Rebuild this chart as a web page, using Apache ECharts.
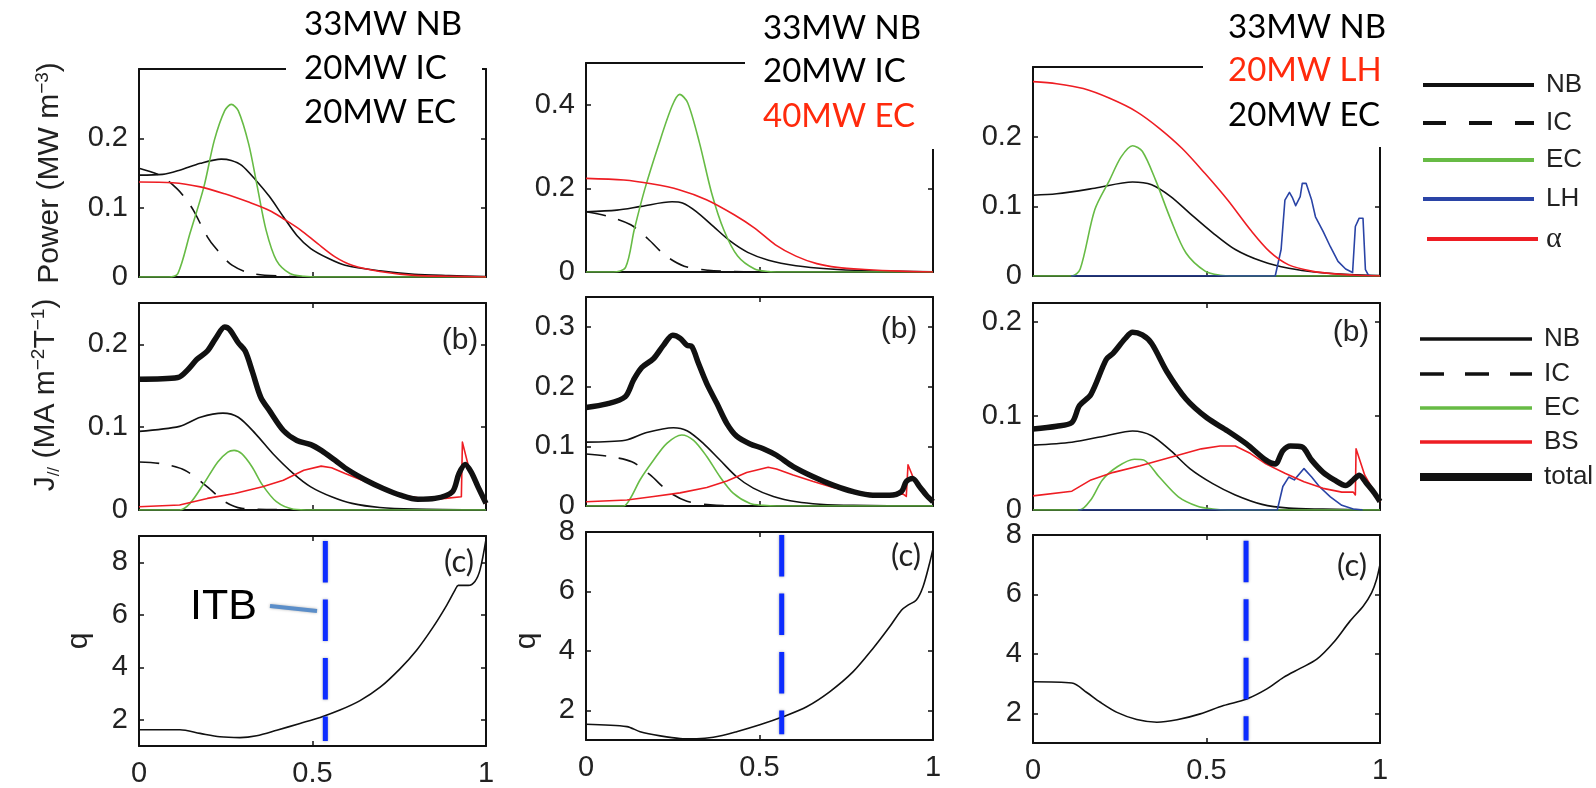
<!DOCTYPE html>
<html><head><meta charset="utf-8">
<script src="https://cdn.jsdelivr.net/npm/echarts@6/dist/echarts.min.js"></script>
<style>html,body{margin:0;padding:0;background:#fff}#c{width:1596px;height:788px}</style>
</head><body><div id="c"></div>
<script>
// ---------- DATA (x = normalised radius, y = value) ----------
// Column 1 : 33MW NB, 20MW IC, 20MW EC
const a1_NB = [[0,0.147],[0.068,0.148],[0.117,0.154],[0.177,0.164],[0.237,0.170],[0.266,0.168],[0.296,0.161],[0.336,0.140],[0.376,0.116],[0.416,0.087],[0.455,0.060],[0.495,0.041],[0.545,0.027],[0.594,0.017],[0.694,0.009],[0.793,0.004],[0.893,0.002],[1,0.0005]];
const a1_IC = [[0,0.157],[0.063,0.146],[0.11,0.127],[0.137,0.111],[0.157,0.096],[0.197,0.058],[0.222,0.041],[0.268,0.017],[0.326,0.005],[0.425,0.001],[0.5,0],[0.85,0]];
const a1_EC = [[0,0],[0.087,0],[0.112,0.005],[0.147,0.063],[0.187,0.130],[0.217,0.197],[0.247,0.240],[0.266,0.249],[0.286,0.240],[0.316,0.192],[0.341,0.130],[0.366,0.068],[0.396,0.024],[0.435,0.005],[0.475,0.001],[0.52,0],[1,0]];
const a1_AL = [[0,0.137],[0.097,0.136],[0.177,0.130],[0.247,0.120],[0.316,0.108],[0.376,0.096],[0.416,0.084],[0.465,0.068],[0.515,0.048],[0.565,0.029],[0.614,0.017],[0.694,0.008],[0.793,0.0024],[0.893,0.001],[1,0]];
const b1_TOT = [[0,0.158],[0.112,0.160],[0.142,0.170],[0.167,0.182],[0.197,0.192],[0.222,0.208],[0.247,0.221],[0.261,0.218],[0.286,0.202],[0.306,0.192],[0.326,0.168],[0.351,0.136],[0.376,0.120],[0.416,0.096],[0.455,0.084],[0.495,0.079],[0.525,0.072],[0.565,0.060],[0.604,0.048],[0.654,0.036],[0.704,0.026],[0.753,0.018],[0.803,0.013],[0.853,0.014],[0.903,0.022],[0.922,0.044],[0.940,0.055],[0.957,0.046],[0.977,0.028],[1,0.008]];
const b1_NB = [[0,0.095],[0.117,0.101],[0.177,0.112],[0.242,0.117],[0.286,0.112],[0.336,0.092],[0.386,0.068],[0.445,0.044],[0.495,0.028],[0.555,0.016],[0.614,0.008],[0.694,0.003],[0.793,0.001],[1,0]];
const b1_IC = [[0,0.058],[0.063,0.056],[0.132,0.048],[0.197,0.028],[0.247,0.010],[0.296,0.002],[0.396,0.0004],[0.6,0],[0.85,0]];
const b1_EC = [[0,0],[0.117,0],[0.147,0.008],[0.187,0.032],[0.227,0.058],[0.256,0.070],[0.274,0.072],[0.296,0.068],[0.326,0.052],[0.356,0.030],[0.396,0.010],[0.445,0.001],[0.5,0],[1,0]];
const b1_BS = [[0,0.004],[0.117,0.006],[0.197,0.014],[0.276,0.020],[0.356,0.028],[0.416,0.036],[0.475,0.048],[0.525,0.053],[0.555,0.051],[0.594,0.044],[0.654,0.034],[0.714,0.024],[0.773,0.017],[0.833,0.013],[0.883,0.014],[0.929,0.016],[0.932,0.082],[0.95,0.052],[0.96,0.045],[0.98,0.027],[1,0.008]];
const c1_q = [[0,1.62],[0.118,1.62],[0.176,1.48],[0.233,1.35],[0.291,1.32],[0.339,1.39],[0.397,1.60],[0.464,1.86],[0.522,2.09],[0.579,2.37],[0.637,2.73],[0.695,3.24],[0.752,3.94],[0.800,4.65],[0.848,5.54],[0.887,6.37],[0.911,6.95],[0.920,7.12],[0.949,7.12],[0.968,7.27],[0.983,7.72],[1,8.87]];
// Column 2 : 33MW NB, 20MW IC, 40MW EC
const a2_NB = [[0,0.144],[0.089,0.148],[0.159,0.157],[0.248,0.168],[0.278,0.165],[0.317,0.145],[0.367,0.109],[0.417,0.073],[0.466,0.047],[0.526,0.028],[0.605,0.015],[0.704,0.007],[0.804,0.003],[0.903,0.0016],[1,0.0005]];
const a2_IC = [[0,0.144],[0.064,0.133],[0.129,0.113],[0.179,0.079],[0.228,0.040],[0.283,0.014],[0.352,0.004],[0.427,0.001],[0.5,0],[0.85,0]];
const a2_EC = [[0,0],[0.079,0],[0.114,0.011],[0.139,0.101],[0.169,0.197],[0.208,0.301],[0.248,0.397],[0.270,0.425],[0.293,0.405],[0.327,0.309],[0.362,0.189],[0.397,0.101],[0.437,0.038],[0.486,0.007],[0.526,0.001],[0.56,0],[1,0]];
const a2_AL = [[0,0.224],[0.109,0.220],[0.188,0.211],[0.268,0.197],[0.347,0.173],[0.427,0.137],[0.486,0.105],[0.546,0.065],[0.605,0.038],[0.665,0.020],[0.724,0.011],[0.804,0.006],[0.903,0.002],[1,0]];
const b2_TOT = [[0,0.165],[0.060,0.171],[0.113,0.183],[0.137,0.211],[0.161,0.232],[0.195,0.247],[0.223,0.269],[0.250,0.286],[0.271,0.281],[0.291,0.269],[0.305,0.267],[0.324,0.239],[0.348,0.205],[0.377,0.172],[0.406,0.138],[0.434,0.117],[0.473,0.104],[0.511,0.096],[0.549,0.085],[0.597,0.066],[0.655,0.049],[0.712,0.035],[0.770,0.024],[0.827,0.018],[0.875,0.018],[0.909,0.024],[0.923,0.041],[0.941,0.046],[0.962,0.032],[0.981,0.018],[1,0.007]];
const b2_NB = [[0,0.107],[0.113,0.110],[0.175,0.123],[0.252,0.131],[0.291,0.126],[0.338,0.105],[0.386,0.077],[0.434,0.049],[0.482,0.030],[0.540,0.016],[0.607,0.007],[0.674,0.003],[0.770,0.001],[1,0]];
const b2_IC = [[0,0.087],[0.065,0.083],[0.132,0.074],[0.185,0.052],[0.238,0.024],[0.291,0.008],[0.358,0.002],[0.444,0],[0.85,0]];
const b2_EC = [[0,0],[0.108,0],[0.128,0.013],[0.156,0.044],[0.195,0.077],[0.233,0.105],[0.276,0.119],[0.310,0.110],[0.348,0.083],[0.386,0.049],[0.425,0.021],[0.473,0.004],[0.511,0.001],[0.55,0],[1,0]];
const b2_BS = [[0,0.007],[0.118,0.010],[0.195,0.016],[0.271,0.022],[0.348,0.031],[0.406,0.042],[0.463,0.056],[0.525,0.065],[0.549,0.062],[0.597,0.052],[0.655,0.041],[0.712,0.031],[0.770,0.024],[0.827,0.020],[0.875,0.018],[0.914,0.020],[0.923,0.016],[0.928,0.069],[0.942,0.049],[0.962,0.032],[1,0.007]];
const c2_q = [[0,1.53],[0.118,1.45],[0.156,1.28],[0.214,1.14],[0.271,1.05],[0.319,1.04],[0.367,1.09],[0.434,1.28],[0.501,1.51],[0.569,1.79],[0.636,2.12],[0.703,2.63],[0.770,3.30],[0.827,4.08],[0.875,4.81],[0.909,5.37],[0.928,5.54],[0.952,5.71],[0.971,6.15],[0.990,6.94],[1,7.44]];
// Column 3 : 33MW NB, 20MW LH, 20MW EC
const a3_NB = [[0,0.116],[0.068,0.118],[0.178,0.126],[0.287,0.135],[0.342,0.131],[0.397,0.114],[0.452,0.090],[0.518,0.062],[0.583,0.038],[0.660,0.021],[0.737,0.011],[0.825,0.005],[0.912,0.002],[1,0.0005]];
const a3_EC = [[0,0],[0.112,0],[0.136,0.010],[0.178,0.095],[0.221,0.138],[0.254,0.171],[0.287,0.187],[0.315,0.179],[0.353,0.138],[0.397,0.081],[0.441,0.033],[0.496,0.007],[0.539,0.001],[0.58,0],[1,0]];
const a3_LH = [[0.11,0],[0.698,0],[0.715,0.038],[0.726,0.109],[0.739,0.120],[0.748,0.112],[0.757,0.101],[0.770,0.114],[0.776,0.133],[0.787,0.133],[0.803,0.109],[0.814,0.085],[0.836,0.064],[0.857,0.042],[0.879,0.021],[0.901,0.010],[0.921,0.005],[0.929,0.071],[0.940,0.083],[0.951,0.083],[0.958,0.009],[0.967,0.001],[0.975,0]];
const a3_AL = [[0,0.279],[0.068,0.276],[0.145,0.269],[0.221,0.255],[0.298,0.236],[0.364,0.212],[0.430,0.183],[0.496,0.147],[0.561,0.109],[0.627,0.066],[0.682,0.035],[0.737,0.016],[0.803,0.007],[0.868,0.003],[0.934,0.001],[1,0]];
const b3_TOT = [[0,0.086],[0.068,0.089],[0.112,0.093],[0.134,0.111],[0.167,0.123],[0.211,0.160],[0.232,0.167],[0.265,0.182],[0.287,0.189],[0.315,0.186],[0.342,0.177],[0.386,0.147],[0.441,0.118],[0.501,0.098],[0.561,0.084],[0.616,0.070],[0.671,0.053],[0.698,0.049],[0.720,0.063],[0.742,0.068],[0.775,0.067],[0.803,0.053],[0.836,0.040],[0.868,0.032],[0.901,0.026],[0.923,0.032],[0.940,0.037],[0.962,0.028],[0.984,0.018],[1,0.009]];
const b3_NB = [[0,0.069],[0.112,0.072],[0.211,0.079],[0.287,0.084],[0.342,0.079],[0.397,0.063],[0.452,0.044],[0.518,0.028],[0.583,0.016],[0.660,0.006],[0.737,0.002],[0.836,0.001],[1,0]];
const b3_EC = [[0,0],[0.134,0],[0.167,0.011],[0.200,0.032],[0.243,0.046],[0.292,0.054],[0.320,0.053],[0.364,0.035],[0.419,0.014],[0.474,0.004],[0.518,0.001],[0.56,0],[1,0]];
const b3_LH = [[0.13,0],[0.704,0],[0.720,0.025],[0.737,0.035],[0.753,0.032],[0.781,0.044],[0.803,0.035],[0.825,0.025],[0.857,0.014],[0.890,0.005],[0.923,0.001],[0.95,0]];
const b3_BS = [[0,0.015],[0.112,0.020],[0.167,0.032],[0.232,0.040],[0.309,0.047],[0.397,0.056],[0.485,0.065],[0.539,0.068],[0.583,0.068],[0.627,0.060],[0.671,0.049],[0.726,0.039],[0.781,0.030],[0.836,0.023],[0.890,0.019],[0.923,0.019],[0.929,0.016],[0.931,0.065],[0.956,0.037],[0.978,0.023],[1,0.009]];
const c3_q = [[0,3.06],[0.112,3.02],[0.155,2.70],[0.194,2.37],[0.242,2.03],[0.299,1.79],[0.357,1.70],[0.415,1.78],[0.482,1.98],[0.549,2.26],[0.616,2.48],[0.674,2.82],[0.722,3.21],[0.770,3.51],[0.818,3.82],[0.866,4.38],[0.914,5.11],[0.952,5.61],[0.976,6.06],[0.990,6.50],[1,7.01]];
// ITB positions (x) and dashed-line extent in q
const itbX = [0.537, 0.564, 0.614];
const itbQ = [[8.81,1.19],[7.9,1.19],[7.81,1.08]];
// axis ranges / tick labels (panel order: col1 a,b,c, col2 a,b,c, col3 a,b,c)
const yMin = [0,0,1, 0,0,1, 0,0,1];
const yMax = [0.3,0.25,9, 0.5,0.35,8, 0.3,0.22,8];
const yTicks = [[0,0.1,0.2],[0,0.1,0.2],[2,4,6,8],[0,0.2,0.4],[0,0.1,0.2,0.3],[2,4,6,8],[0,0.1,0.2],[0,0.1,0.2],[2,4,6,8]];
const xTicks = [0,0.5,1];
const titles = [["33MW NB","20MW IC","20MW EC"],["33MW NB","20MW IC","40MW EC"],["33MW NB","20MW LH","20MW EC"]];
const titleRed = [[false,false,false],[false,false,true],[false,true,false]];
const legend1 = ["NB","IC","EC","LH","α"];
const legend2 = ["NB","IC","EC","BS","total"];

// ---------- LAYOUT ----------
const G = [[139,69,347,208],[139,303,347,207],[139,536,347,210],
           [586,63,347,209],[586,297,347,209],[586,532,347,208],
           [1033,67,347,209],[1033,303,347,207],[1033,535,347,208]];
const BLACK='#111', GREEN='#67bb45', RED='#ee1d23', BLUE='#2a44a6', TRED='#ff2a0c';
const SANS='Liberation Sans, Arial, sans-serif';

const grid=[], xAxis=[], yAxis=[], series=[];
G.forEach((g,i)=>{
  grid.push({left:g[0],top:g[1],width:g[2],height:g[3],containLabel:false});
  const line={show:true,onZero:false,lineStyle:{color:'#111',width:2}};
  const tick={show:true,inside:true,length:5,lineStyle:{color:'#111',width:1.5}};
  const isBottom = (i%3)===2;
  xAxis.push({type:'value',gridIndex:i,min:0,max:1,position:'bottom',axisLine:line,
    axisTick:Object.assign({customValues:xTicks},tick),splitLine:{show:false},
    axisLabel:{show:isBottom,customValues:xTicks,fontSize:29,fontFamily:SANS,color:'#222',margin:13}});
  xAxis.push({type:'value',gridIndex:i,min:0,max:1,position:'top',axisLine:line,
    axisTick:Object.assign({customValues:xTicks},tick),splitLine:{show:false},axisLabel:{show:false}});
  yAxis.push({type:'value',gridIndex:i,min:yMin[i],max:yMax[i],position:'left',axisLine:line,
    axisTick:Object.assign({customValues:yTicks[i]},tick),splitLine:{show:false},
    axisLabel:{customValues:yTicks[i],fontSize:29,fontFamily:SANS,color:'#222',margin:11}});
  yAxis.push({type:'value',gridIndex:i,min:yMin[i],max:yMax[i],position:'right',axisLine:line,
    axisTick:Object.assign({customValues:yTicks[i]},tick),splitLine:{show:false},axisLabel:{show:false}});
});
function L(i,data,color,width,o){
  o=o||{};
  series.push({type:'line',xAxisIndex:2*i,yAxisIndex:2*i,data:data,showSymbol:false,symbol:'none',
    silent:true,animation:false,clip:true,z:o.z||2,
    smooth:o.sharp?false:0.3,
    lineStyle:{color:color,width:width,type:o.dash||'solid',cap:'butt',join:'round'}});
}
const thin=1.6, thick=5.5, icDash=[20,13];
// col 1
L(0,a1_IC,BLACK,thin,{dash:icDash}); L(0,a1_NB,BLACK,thin); L(0,a1_EC,GREEN,thin); L(0,a1_AL,RED,thin);
L(1,b1_IC,BLACK,thin,{dash:icDash}); L(1,b1_NB,BLACK,thin); L(1,b1_EC,GREEN,thin); L(1,b1_BS,RED,thin,{sharp:true}); L(1,b1_TOT,BLACK,thick,{z:3});
L(2,c1_q,BLACK,thin);
// col 2
L(3,a2_IC,BLACK,thin,{dash:icDash}); L(3,a2_NB,BLACK,thin); L(3,a2_EC,GREEN,thin); L(3,a2_AL,RED,thin);
L(4,b2_IC,BLACK,thin,{dash:icDash}); L(4,b2_NB,BLACK,thin); L(4,b2_EC,GREEN,thin); L(4,b2_BS,RED,thin,{sharp:true}); L(4,b2_TOT,BLACK,thick,{z:3});
L(5,c2_q,BLACK,thin);
// col 3
L(6,a3_NB,BLACK,thin); L(6,a3_EC,GREEN,thin); L(6,a3_LH,BLUE,thin,{sharp:true}); L(6,a3_AL,RED,thin);
L(7,b3_NB,BLACK,thin); L(7,b3_EC,GREEN,thin); L(7,b3_LH,BLUE,thin,{sharp:true}); L(7,b3_BS,RED,thin,{sharp:true}); L(7,b3_TOT,BLACK,thick,{z:3});
L(8,c3_q,BLACK,thin);
// ITB dashed lines
[2,5,8].forEach((pi,k)=>{
  series.push({type:'line',xAxisIndex:2*pi,yAxisIndex:2*pi,showSymbol:false,symbol:'none',silent:true,animation:false,z:4,
    data:[[itbX[k],itbQ[k][0]],[itbX[k],itbQ[k][1]]],
    lineStyle:{color:'#0b2bff',width:5,type:[41.5,17],cap:'butt',shadowBlur:3,shadowColor:'rgba(0,0,30,0.35)'}});
});

// ---------- GRAPHICS: annotation boxes, axis names, tags, legends ----------
const gr=[];
gr.push({type:'rect',shape:{x:286,y:0,width:196,height:136},style:{fill:'#fff'},z:50});
gr.push({type:'rect',shape:{x:745,y:0,width:196,height:149},style:{fill:'#fff'},z:50});
gr.push({type:'rect',shape:{x:1203,y:0,width:186,height:147},style:{fill:'#fff'},z:50});
const tPos=[[304,[24,68,112]],[763,[28,71,116]],[1228,[27,70,115]]];
tPos.forEach((p,c)=>{
  p[1].forEach((yy,r)=>{
    gr.push({type:'text',x:p[0],y:yy,z:60,style:{text:titles[c][r],fontSize:33,fontFamily:'Lato, sans-serif',
      fill:titleRed[c][r]?TRED:'#000',align:'left',verticalAlign:'middle'}});
  });
});
const supS={fontSize:19,fontFamily:SANS,fill:'#222',verticalAlign:'top',lineHeight:34};
const subS={fontSize:17,fontFamily:SANS,fill:'#222',verticalAlign:'bottom',lineHeight:34};
const mainS={fontSize:30,fontFamily:SANS,fill:'#222',lineHeight:34};
gr.push({type:'text',x:50,y:173,rotation:Math.PI/2,z:60,style:{
  text:'{m|Power (MW m}{s|−3}{m|)}',align:'center',verticalAlign:'middle',rich:{m:mainS,s:supS}}});
gr.push({type:'text',x:46,y:395,rotation:Math.PI/2,z:60,style:{
  text:'{m|J}{b|//}{m| (MA m}{s|−2}{m|T}{s|−1}{m|)}',align:'center',verticalAlign:'middle',rich:{m:mainS,s:supS,b:subS}}});
[[79,641],[527,641]].forEach(p=>{
  gr.push({type:'text',x:p[0],y:p[1],rotation:Math.PI/2,z:60,style:{text:'q',fontSize:30,fontFamily:SANS,fill:'#222',align:'center',verticalAlign:'middle'}});
});
[[460,341],[899,330],[1351,333]].forEach(p=>{
  gr.push({type:'text',x:p[0],y:p[1],z:60,style:{text:'(b)',fontSize:30,fontFamily:SANS,fill:'#222',align:'center',verticalAlign:'middle'}});
});
[[459,562],[906,556],[1352,566]].forEach(p=>{
  gr.push({type:'text',x:p[0],y:p[1],z:60,style:{text:'(c)',fontSize:31,fontFamily:'Lato, sans-serif',fill:'#222',align:'center',verticalAlign:'middle'}});
});
gr.push({type:'text',x:190,y:607,z:60,style:{text:'ITB',fontSize:43,fontFamily:SANS,fill:'#000',align:'left',verticalAlign:'middle'}});
gr.push({type:'line',z:60,shape:{x1:270,y1:606,x2:317,y2:611},style:{stroke:'#5b8ec9',lineWidth:4,shadowBlur:3,shadowColor:'rgba(0,0,0,0.3)'}});
const lg1Y=[85,123,160,199,239];
const lg1C=[BLACK,BLACK,GREEN,BLUE,RED];
lg1Y.forEach((yy,k)=>{
  const x1 = k===4?1427:1423, x2 = k===4?1538:1534;
  gr.push({type:'line',z:60,shape:{x1:x1,y1:yy,x2:x2,y2:yy},style:{stroke:lg1C[k],lineWidth:4,lineDash:k===1?[23,23]:null}});
  gr.push({type:'text',x:1546,y:yy,z:60,style:{text:legend1[k],fontSize:k===4?30:26,fontFamily:k===4?'Liberation Serif, serif':SANS,fill:'#222',align:'left',verticalAlign:'middle'}});
});
const lg2Y=[339,374,408,442,477];
const lg2C=[BLACK,BLACK,GREEN,RED,BLACK];
lg2Y.forEach((yy,k)=>{
  gr.push({type:'line',z:60,shape:{x1:1420,y1:yy,x2:1532,y2:yy},style:{stroke:lg2C[k],lineWidth:k===4?8:3.5,lineDash:k===1?[24,21]:null}});
  gr.push({type:'text',x:1544,y:yy,z:60,style:{text:legend2[k],fontSize:26,fontFamily:SANS,fill:'#222',align:'left',verticalAlign:'middle'}});
});

const chart=echarts.init(document.getElementById('c'),null,{renderer:'canvas',width:1596,height:788});
chart.setOption({animation:false,backgroundColor:'#fff',grid:grid,xAxis:xAxis,yAxis:yAxis,series:series,graphic:{elements:gr}});
</script></body></html>
